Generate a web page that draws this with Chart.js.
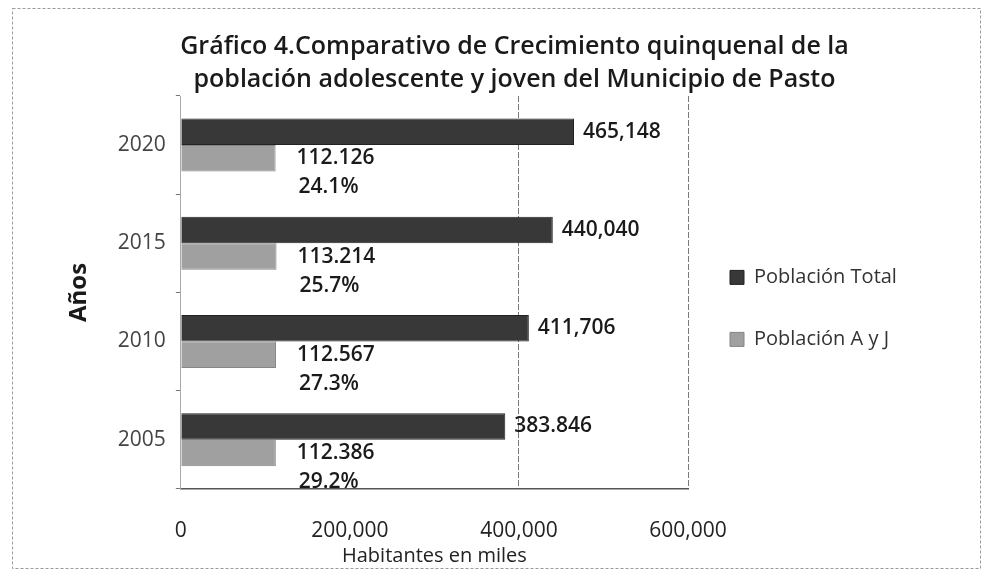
<!DOCTYPE html>
<html>
<head>
<meta charset="utf-8">
<script src="https://cdn.jsdelivr.net/npm/chart.js@4"></script>
<style>
  body { margin: 0; background: #fff; }
  #wrap { width: 984px; height: 576px; position: relative; }
</style>
</head>
<body>
<div id="wrap"><canvas id="grafico"></canvas></div>
<script>
const anios = ['2020', '2015', '2010', '2005'];
const poblacionTotal = [465148, 440040, 411706, 383846];
const poblacionAyJ = [112126, 113214, 112567, 112386];
const etiquetasTotal = ['465,148', '440,040', '411,706', '383.846'];
const etiquetasAyJ = ['112.126', '113.214', '112.567', '112.386'];
const porcentajes = ['24.1%', '25.7%', '27.3%', '29.2%'];
const ticksX = [0, 200000, 400000, 600000];

const fuente = "'Open Sans', Lato, sans-serif";

// etiquetas de valor y porcentaje junto a las barras
const etiquetasPlugin = {
    id: 'etiquetas',
    afterDatasetsDraw(chart) {
        const ctx = chart.ctx;
        const total = chart.getDatasetMeta(0).data;
        const ayj = chart.getDatasetMeta(1).data;
        ctx.save();
        ctx.fillStyle = '#1a1a1a';
        ctx.textBaseline = 'middle';
        ctx.font = '600 21px ' + fuente;
        ctx.textAlign = 'left';
        total.forEach((bar, i) => {
            ctx.fillText(etiquetasTotal[i], bar.x + 9, bar.y);
        });
        ayj.forEach((bar, i) => {
            ctx.fillText(etiquetasAyJ[i], bar.x + 21, bar.y);
            ctx.fillText(porcentajes[i], bar.x + 23, bar.y + 29);
        });
        ctx.restore();
    }
};

// marco exterior del gráfico
const marcoPlugin = {
    id: 'marco',
    beforeDraw(chart) {
        const ctx = chart.ctx;
        ctx.save();
        ctx.fillStyle = '#fff';
        ctx.fillRect(0, 0, chart.width, chart.height);
        ctx.strokeStyle = '#9a9a9a';
        ctx.lineWidth = 1;
        ctx.setLineDash([3, 2]);
        ctx.strokeRect(12.5, 8.5, 968, 560);
        ctx.restore();
    }
};

// la leyenda ocupa una columna ancha a la derecha, como en el original
const anchoLeyenda = {
    id: 'anchoLeyenda',
    beforeLayout(chart) {
        const lg = chart.legend;
        if (lg && !lg._anchoFijo) {
            const fit = lg.fit.bind(lg);
            lg.fit = function () {
                fit();
                this.width = 290;
            };
            lg._anchoFijo = true;
        }
    }
};

const config = {
    type: 'bar',
    data: {
        labels: anios,
        datasets: [{
            label: 'Población Total',
            data: poblacionTotal,
            backgroundColor: '#383838',
            borderColor: '#222',
            borderWidth: 1
        }, {
            label: 'Población A y J',
            data: poblacionAyJ,
            backgroundColor: '#a0a0a0',
            borderColor: '#858585',
            borderWidth: 1
        }]
    },
    options: {
        indexAxis: 'y',
        responsive: true,
        maintainAspectRatio: false,
        animation: false,
        layout: {
            padding: { left: 51, right: 6, top: 12, bottom: 8 }
        },
        datasets: {
            bar: {
                categoryPercentage: 0.54,
                barPercentage: 1
            }
        },
        plugins: {
            title: {
                display: true,
                text: ['Gráfico 4.Comparativo de Crecimiento quinquenal de la',
                       'población adolescente y joven del Municipio de Pasto'],
                color: '#1a1a1a',
                font: { family: fuente, size: 25, weight: '600', lineHeight: 1.32 },
                padding: { top: 18, bottom: 0 }
            },
            legend: {
                position: 'right',
                align: 'center',
                title: {
                    display: true,
                    text: ' ',
                    font: { size: 14 },
                    padding: 10
                },
                labels: {
                    color: '#333',
                    font: { family: fuente, size: 20 },
                    boxWidth: 14,
                    boxHeight: 14,
                    padding: 42
                }
            },
            tooltip: { enabled: false }
        },
        scales: {
            x: {
                min: 0,
                max: 600000,
                afterBuildTicks: axis => {
                    axis.ticks = ticksX.map(v => ({ value: v }));
                },
                ticks: {
                    color: '#222',
                    font: { family: fuente, size: 21 },
                    padding: 30,
                    callback: v => v.toLocaleString('en-US')
                },
                grid: {
                    color: ctx => (ctx.tick && ctx.tick.value >= 400000) ? '#7a7a7a' : 'rgba(0,0,0,0)',
                    drawTicks: false
                },
                border: { display: true, color: '#555', width: 1.5, dash: [6, 2] },
                title: {
                    display: true,
                    text: 'Habitantes en miles',
                    color: '#222',
                    font: { family: fuente, size: 20 },
                    padding: { top: -30, bottom: 0 }
                }
            },
            y: {
                ticks: {
                    color: '#444',
                    font: { family: fuente, size: 21 },
                    padding: 10
                },
                grid: {
                    display: true,
                    drawOnChartArea: false,
                    tickLength: 5,
                    color: '#777'
                },
                border: { display: true, color: '#aaa', dash: [2, 6] },
                title: {
                    display: true,
                    text: 'Años',
                    color: '#1a1a1a',
                    font: { family: fuente, size: 24, weight: 'bold' },
                    padding: 14
                }
            }
        }
    },
    plugins: [marcoPlugin, anchoLeyenda, etiquetasPlugin]
};

const ctxGrafico = document.getElementById('grafico').getContext('2d');
new Chart(ctxGrafico, config);
</script>
</body>
</html>
